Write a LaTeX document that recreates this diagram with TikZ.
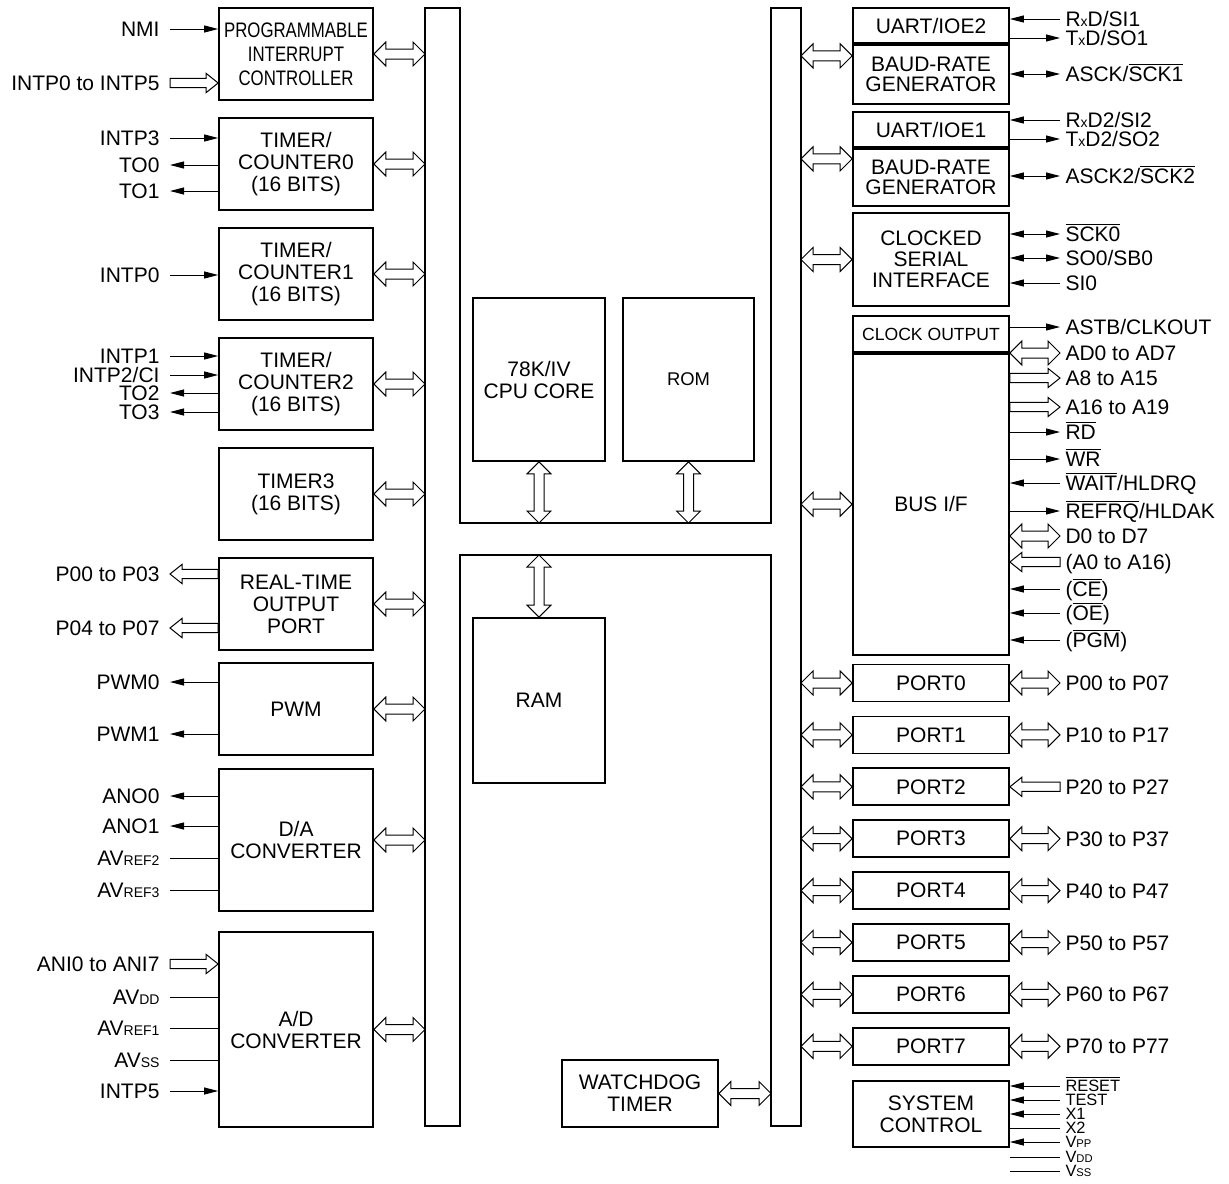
\documentclass[tikz,border=0pt]{standalone}
\usepackage{fontspec}
\setmainfont{Liberation Sans}
\newfontfamily\narrowsf{Liberation Sans}[FakeStretch=0.8]
\usetikzlibrary{arrows.meta,calc}
\newcommand\ovl[1]{$\overline{\mbox{#1}}$}
\newcommand\lowsub[2][7]{{\fontsize{#1}{#1}\selectfont #2}}
\newcommand\smx{{\fontsize{7}{7}\selectfont x}}
\tikzset{
	blk/.style={draw, line width=0.85pt, align=center, inner sep=0pt},
	lblk/.style={blk, minimum width=77pt, minimum height=46pt},
	rblk/.style={blk, minimum width=78pt},
	lbl/.style={anchor=east, inner xsep=5pt, inner ysep=0pt, text height=7.5pt, text depth=0pt},
	rlbl/.style={anchor=west, inner xsep=2.5pt, inner ysep=0pt, text height=7.5pt, text depth=0pt},
	slbl/.style={rlbl, font=\fontsize{8.2}{8.2}\selectfont, text height=5.9pt},
	% hollow arrow with a head at both ends
	fatboth/.style={to path={
		-- ($(\tikztostart)!6pt!(\tikztotarget)!6pt!90:(\tikztotarget)$)
		-- ($(\tikztostart)!6pt!(\tikztotarget)!2.5pt!90:(\tikztotarget)$)
		-- ($(\tikztotarget)!6pt!(\tikztostart)!2.5pt!270:(\tikztostart)$)
		-- ($(\tikztotarget)!6pt!(\tikztostart)!6pt!270:(\tikztostart)$)
		-- (\tikztotarget)
		-- ($(\tikztotarget)!6pt!(\tikztostart)!6pt!90:(\tikztostart)$)
		-- ($(\tikztotarget)!6pt!(\tikztostart)!2.5pt!90:(\tikztostart)$)
		-- ($(\tikztostart)!6pt!(\tikztotarget)!2.5pt!270:(\tikztotarget)$)
		-- ($(\tikztostart)!6pt!(\tikztotarget)!6pt!270:(\tikztotarget)$)
		-- cycle}},
	% hollow arrow, head at the target
	fatone/.style={to path={
		($(\tikztostart)!2.3pt!90:(\tikztotarget)$)
		-- ($(\tikztotarget)!6pt!(\tikztostart)!2.3pt!270:(\tikztostart)$)
		-- ($(\tikztotarget)!6pt!(\tikztostart)!4.8pt!270:(\tikztostart)$)
		-- (\tikztotarget)
		-- ($(\tikztotarget)!6pt!(\tikztostart)!4.8pt!90:(\tikztostart)$)
		-- ($(\tikztotarget)!6pt!(\tikztostart)!2.3pt!90:(\tikztostart)$)
		-- ($(\tikztostart)!2.3pt!270:(\tikztotarget)$)
		-- cycle}},
}
\begin{document}
\begin{tikzpicture}[x=0.5pt,y=-0.5pt,line width=0.5pt,font=\fontsize{10.5}{11}\selectfont,
		>={Triangle[length=7pt,width=3.5pt]}]
		\useasboundingbox (0,0) rectangle (1229,1183);
		% internal bus
		\draw[line width=0.85pt] (425,8) -- (460,8) -- (460,523) -- (771,523) -- (771,8) -- (801,8)
			-- (801,1126) -- (771,1126) -- (771,555) -- (460,555) -- (460,1126) -- (425,1126) -- cycle;
		\coordinate (lbus) at (425,0);
		\coordinate (rbus) at (801,0);
		\coordinate (rbusin) at (771,0);
		\coordinate (ibus) at (0,523);
		\coordinate (ibuslow) at (0,555);

		% left blocks
		\node[lblk, font=\narrowsf\fontsize{10.5}{12}\selectfont] (pic) at (296,54) {PROGRAMMABLE\\INTERRUPT\\CONTROLLER};
		\node[lblk] (tc0) at (296,164) {TIMER/\\COUNTER0\\(16 BITS)};
		\node[lblk] (tc1) at (296,274) {TIMER/\\COUNTER1\\(16 BITS)};
		\node[lblk] (tc2) at (296,384) {TIMER/\\COUNTER2\\(16 BITS)};
		\node[lblk] (tm3) at (296,494) {TIMER3\\(16 BITS)};
		\node[lblk] (rto) at (296,604) {REAL-TIME\\OUTPUT\\PORT};
		\node[lblk] (pwm) at (296,709) {PWM};
		\node[lblk, minimum height=71pt] (da) at (296,840) {D/A\\CONVERTER};
		\node[lblk, minimum height=97.5pt] (ad) at (296,1029.5) {A/D\\CONVERTER};
		\foreach \b in {pic,tc0,tc1,tc2,tm3,rto,pwm,da,ad}
			\draw[fatboth] (\b.east) to (\b.east -| lbus);

		\node[lbl] (nmi) at (170,29) {NMI};
		\node[lbl] (intpa) at (170,83) {INTP0 to INTP5};
		\draw[->] (nmi.east) -- (nmi.east -| pic.west);
		\draw[fatone] (intpa.east) to (intpa.east -| pic.west);
		\node[lbl] (intp3) at (170,138) {INTP3};
		\node[lbl] (to0) at (170,165) {TO0};
		\node[lbl] (to1) at (170,191) {TO1};
		\draw[->] (intp3.east) -- (intp3.east -| tc0.west);
		\draw[<-] (to0.east) -- (to0.east -| tc0.west);
		\draw[<-] (to1.east) -- (to1.east -| tc0.west);
		\node[lbl] (intp0) at (170,275) {INTP0};
		\draw[->] (intp0.east) -- (intp0.east -| tc1.west);
		\node[lbl] (intp1) at (170,356) {INTP1};
		\node[lbl] (intp2) at (170,375) {INTP2/CI};
		\node[lbl] (to2) at (170,393) {TO2};
		\node[lbl] (to3) at (170,412) {TO3};
		\draw[->] (intp1.east) -- (intp1.east -| tc2.west);
		\draw[->] (intp2.east) -- (intp2.east -| tc2.west);
		\draw[<-] (to2.east) -- (to2.east -| tc2.west);
		\draw[<-] (to3.east) -- (to3.east -| tc2.west);
		\node[lbl] (p03) at (170,574) {P00 to P03};
		\node[lbl] (p47) at (170,628) {P04 to P07};
		\draw[fatone] (p03.east -| rto.west) to (p03.east);
		\draw[fatone] (p47.east -| rto.west) to (p47.east);
		\node[lbl] (pwm0) at (170,682) {PWM0};
		\node[lbl] (pwm1) at (170,734) {PWM1};
		\draw[<-] (pwm0.east) -- (pwm0.east -| pwm.west);
		\draw[<-] (pwm1.east) -- (pwm1.east -| pwm.west);
		\node[lbl] (ano0) at (170,796) {ANO0};
		\node[lbl] (ano1) at (170,826) {ANO1};
		\node[lbl] (avref2) at (170,858) {AV\lowsub{REF2}};
		\node[lbl] (avref3) at (170,890) {AV\lowsub{REF3}};
		\draw[<-] (ano0.east) -- (ano0.east -| da.west);
		\draw[<-] (ano1.east) -- (ano1.east -| da.west);
		\draw (avref2.east) -- (avref2.east -| da.west);
		\draw (avref3.east) -- (avref3.east -| da.west);
		\node[lbl] (ani) at (170,964) {ANI0 to ANI7};
		\node[lbl] (avdd) at (170,997) {AV\lowsub{DD}};
		\node[lbl] (avref1) at (170,1028) {AV\lowsub{REF1}};
		\node[lbl] (avss) at (170,1060) {AV\lowsub{SS}};
		\node[lbl] (intp5) at (170,1091) {INTP5};
		\draw[fatone] (ani.east) to (ani.east -| ad.west);
		\draw (avdd.east) -- (avdd.east -| ad.west);
		\draw (avref1.east) -- (avref1.east -| ad.west);
		\draw (avss.east) -- (avss.east -| ad.west);
		\draw[->] (intp5.east) -- (intp5.east -| ad.west);

		% core, memories, watchdog
		\node[blk, minimum width=66pt, minimum height=81.5pt] (cpu) at (539,379.5) {78K/IV\\CPU CORE};
		\node[blk, minimum width=65.5pt, minimum height=81.5pt, font=\fontsize{9.2}{10}\selectfont] (rom) at (688.5,379.5) {ROM};
		\node[blk, minimum width=66pt, minimum height=82.5pt] (ram) at (539,700.5) {RAM};
		\node[blk, minimum width=78pt, minimum height=33.5pt] (wdt) at (640,1093.5) {WATCHDOG\\TIMER};
		\draw[fatboth] (cpu.south) to (cpu.south |- ibus);
		\draw[fatboth] (rom.south) to (rom.south |- ibus);
		\draw[fatboth] (ram.north) to (ram.north |- ibuslow);
		\draw[fatboth] (wdt.east) to (wdt.east -| rbusin);

		% right blocks
		\node[rblk, minimum height=17.5pt] (uart2) at (931,25.5) {UART/IOE2};
		\node[rblk, minimum height=29.5pt, anchor=north, font=\fontsize{10.5}{10}\selectfont] (baud2) at (uart2.south) {BAUD-RATE\\GENERATOR};
		\node[rblk, minimum height=17.5pt] (uart1) at (931,129.5) {UART/IOE1};
		\node[rblk, minimum height=28.5pt, anchor=north, font=\fontsize{10.5}{10}\selectfont] (baud1) at (uart1.south) {BAUD-RATE\\GENERATOR};
		\node[rblk, minimum height=46.5pt, font=\fontsize{10.5}{10.5}\selectfont] (csi) at (931,259.5) {CLOCKED\\SERIAL\\INTERFACE};
		\node[rblk, minimum height=18pt, font=\fontsize{8.8}{9}\selectfont] (clk) at (931,334) {CLOCK OUTPUT};
		\node[rblk, minimum height=150.5pt, anchor=north] (bif) at (clk.south) {BUS I/F};
		\node[rblk, minimum height=33pt] (sysc) at (931,1114) {SYSTEM\\CONTROL};
		\coordinate (ser2) at ($(uart2.north west)!.5!(baud2.south west)$);
		\coordinate (ser1) at ($(uart1.north west)!.5!(baud1.south west)$);
		\draw[fatboth] (ser2 -| rbus) to (ser2);
		\draw[fatboth] (ser1 -| rbus) to (ser1);
		\draw[fatboth] (csi.west -| rbus) to (csi.west);
		\draw[fatboth] (bif.west -| rbus) to (bif.west);

		\node[rlbl] (rxd1) at (1060,19) {R\smx D/SI1};
		\node[rlbl] (txd1) at (1060,38) {T\smx D/SO1};
		\node[rlbl] (asck1) at (1060,74) {ASCK/\ovl{SCK1}};
		\draw[->] (rxd1.west) -- (rxd1.west -| uart2.east);
		\draw[<-] (txd1.west) -- (txd1.west -| uart2.east);
		\draw[<->] (asck1.west) -- (asck1.west -| baud2.east);
		\node[rlbl] (rxd2) at (1060,120) {R\smx D2/SI2};
		\node[rlbl] (txd2) at (1060,139) {T\smx D2/SO2};
		\node[rlbl] (asck2) at (1060,176) {ASCK2/\ovl{SCK2}};
		\draw[->] (rxd2.west) -- (rxd2.west -| uart1.east);
		\draw[<-] (txd2.west) -- (txd2.west -| uart1.east);
		\draw[<->] (asck2.west) -- (asck2.west -| baud1.east);
		\node[rlbl] (sck0) at (1060,234) {\ovl{SCK0}};
		\node[rlbl] (so0) at (1060,258) {SO0/SB0};
		\node[rlbl] (si0) at (1060,283) {SI0};
		\draw[<->] (sck0.west) -- (sck0.west -| csi.east);
		\draw[<->] (so0.west) -- (so0.west -| csi.east);
		\draw[->] (si0.west) -- (si0.west -| csi.east);

		\node[rlbl] (astb) at (1060,327) {ASTB/CLKOUT};
		\node[rlbl] (ad07) at (1060,353) {AD0 to AD7};
		\node[rlbl] (a815) at (1060,378) {A8 to A15};
		\node[rlbl] (a1619) at (1060,407) {A16 to A19};
		\node[rlbl] (rd) at (1060,432) {\ovl{RD}};
		\node[rlbl] (wr) at (1060,459) {\ovl{WR}};
		\node[rlbl] (wait) at (1060,483) {\ovl{WAIT}/HLDRQ};
		\node[rlbl] (refrq) at (1060,511) {\ovl{REFRQ}/HLDAK};
		\node[rlbl] (d07) at (1060,536) {D0 to D7};
		\node[rlbl] (a016) at (1060,562) {(A0 to A16)};
		\node[rlbl] (ce) at (1060,589) {(\ovl{CE})};
		\node[rlbl] (oe) at (1060,613) {(\ovl{OE})};
		\node[rlbl] (pgm) at (1060,640) {(\ovl{PGM})};
		\draw[<-] (astb.west) -- (astb.west -| clk.east);
		\draw[fatboth] (ad07.west -| bif.east) to (ad07.west);
		\draw[fatone] (a815.west -| bif.east) to (a815.west);
		\draw[fatone] (a1619.west -| bif.east) to (a1619.west);
		\draw[<-] (rd.west) -- (rd.west -| bif.east);
		\draw[<-] (wr.west) -- (wr.west -| bif.east);
		\draw[->] (wait.west) -- (wait.west -| bif.east);
		\draw[<-] (refrq.west) -- (refrq.west -| bif.east);
		\draw[fatboth] (d07.west -| bif.east) to (d07.west);
		\draw[fatone] (a016.west) to (a016.west -| bif.east);
		\draw[->] (ce.west) -- (ce.west -| bif.east);
		\draw[->] (oe.west) -- (oe.west -| bif.east);
		\draw[->] (pgm.west) -- (pgm.west -| bif.east);

		% ports
		\foreach \i in {0,...,7} {
			\node[rblk, minimum height=18.5pt] (port\i) at (931,{683+51.9*\i}) {PORT\i};
			\node[rlbl] (pp\i) at (1060,{683+51.9*\i}) {P\i0 to P\i7};
			\draw[fatboth] (port\i.west -| rbus) to (port\i.west);
			\ifnum\i=2
				\draw[fatone] (pp\i.west) to (port\i.east);
			\else
				\draw[fatboth] (port\i.east) to (pp\i.west);
			\fi
		}

		\node[slbl] (reset) at (1060,1086) {\ovl{RESET}};
		\node[slbl] (test) at (1060,1100) {TEST};
		\node[slbl] (xone) at (1060,1114) {X1};
		\node[slbl] (xtwo) at (1060,1128) {X2};
		\node[slbl] (vpp) at (1060,1142) {V\lowsub[5.6]{PP}};
		\node[slbl] (vdd) at (1060,1157) {V\lowsub[5.6]{DD}};
		\node[slbl] (vss) at (1060,1171) {V\lowsub[5.6]{SS}};
		\draw[->] (reset.west) -- (reset.west -| sysc.east);
		\draw[->] (test.west) -- (test.west -| sysc.east);
		\draw[->] (xone.west) -- (xone.west -| sysc.east);
		\draw (xtwo.west) -- (xtwo.west -| sysc.east);
		\draw[->] (vpp.west) -- (vpp.west -| sysc.east);
		\draw (vdd.west) -- (vdd.west -| sysc.east);
		\draw (vss.west) -- (vss.west -| sysc.east);
	\end{tikzpicture}
\end{document}
